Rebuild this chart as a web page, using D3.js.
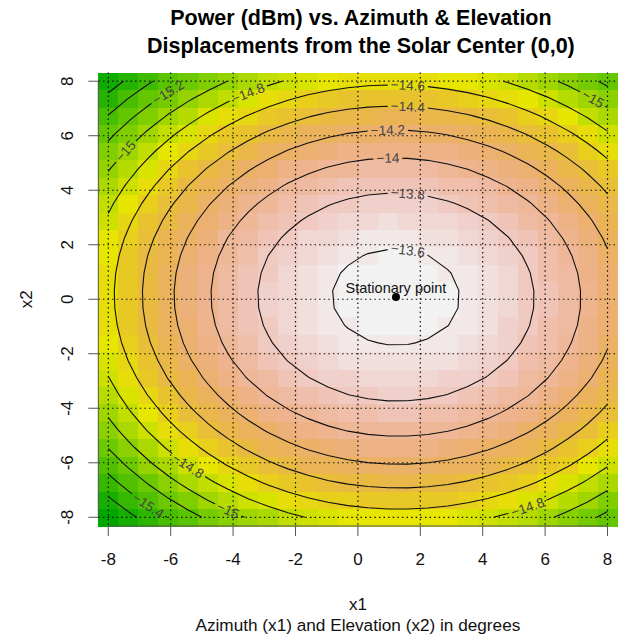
<!DOCTYPE html>
<html><head><meta charset="utf-8">
<script src="https://cdn.jsdelivr.net/npm/d3@7"></script>
<style>
body{margin:0;background:#fff}
text{font-family:"Liberation Sans",Arial,Helvetica,sans-serif}
</style>
</head><body>
<svg id="chart" width="619" height="636"></svg>
<script>
// ---- data ----
// second-order response-surface model (rsm fit): Power ~ SO(x1, x2)
const coefNames  = ["(Intercept)", "x1", "x2", "x1:x2", "x1^2", "x2^2"];
const coefValues = [-13.5644, 0.03158, 0.00321, -0.000348, -0.01293, -0.0174];
// evaluation grid (26 x 26 points over [-8, 8], rsm default resolution)
const gridX1 = d3.range(26).map(i => -8 + i * 16 / 25);
const gridX2 = d3.range(26).map(i => -8 + i * 16 / 25);
const xTicks = [-8, -6, -4, -2, 0, 2, 4, 6, 8];
const yTicks = [-8, -6, -4, -2, 0, 2, 4, 6, 8];
const contourLevels = [-15.8, -15.6, -15.4, -15.2, -15.0, -14.8, -14.6, -14.4, -14.2, -14.0, -13.8, -13.6];
const labelLevels = [-13.6, -13.8, -14.0, -14.2, -14.4, -14.6, -14.8, -14.8, -14.8, -15.0, -15.0, -15.0, -15.2, -15.4];
const titleLines = ["Power (dBm) vs. Azimuth & Elevation", "Displacements from the Solar Center (0,0)"];
const xLabel = "x1", yLabel = "x2";
const subLabel = "Azimuth (x1) and Elevation (x2) in degrees";
const pointLabel = "Stationary point";

// ---- layout (not data) ----
const labelAnchors = [[1.33,1.7],[1.33,3.8],[1.0,5.1],[1.27,6.15],[1.33,7.1],[1.33,7.9],
  [-3.59,7.37],[-5.24,-6.19],[5.12,-7.62],[-7.41,5.47],[7.42,7.28],[-4.18,-7.69],[-6.15,7.49],[-6.79,-7.41]];
const plot = {l: 98.3, r: 617.5, t: 72.5, b: 526};

function hsv(h, s, v) {
  const i = Math.floor(h * 6), f = h * 6 - i;
  const p = v * (1 - s), q = v * (1 - f * s), t = v * (1 - (1 - f) * s);
  let r, g, b;
  switch (((i % 6) + 6) % 6) {
    case 0: r=v; g=t; b=p; break; case 1: r=q; g=v; b=p; break;
    case 2: r=p; g=v; b=t; break; case 3: r=p; g=q; b=v; break;
    case 4: r=t; g=p; b=v; break; default: r=v; g=p; b=q;
  }
  return d3.rgb(r*255, g*255, b*255).formatHex();
}
function terrainColors(n) {
  const k = Math.floor(n / 2), h = [4/12, 2/12, 0], s = [1, 1, 0], v = [0.65, 0.9, 0.95];
  const out = [];
  for (let i = 0; i < k; i++) { const t = i / (k - 1);
    out.push(hsv(h[0]+(h[1]-h[0])*t, s[0]+(s[1]-s[0])*t, v[0]+(v[1]-v[0])*t)); }
  const m = n - k + 1;
  for (let i = 1; i < m; i++) { const t = i / (m - 1);
    out.push(hsv(h[1]+(h[2]-h[1])*t, s[1]+(s[2]-s[1])*t, v[1]+(v[2]-v[1])*t)); }
  return out;
}

const svg = d3.select("#chart");
const half = (gridX1[1] - gridX1[0]) / 2;
const x = d3.scaleLinear().domain([gridX1[0] - half, gridX1[gridX1.length-1] + half]).range([plot.l, plot.r]);
const y = d3.scaleLinear().domain([gridX2[0] - half, gridX2[gridX2.length-1] + half]).range([plot.b, plot.t]);

const c = coefValues;
const model = (a, b) => c[0] + c[1]*a + c[2]*b + c[3]*a*b + c[4]*a*a + c[5]*b*b;
const Z = gridX2.map(b => gridX1.map(a => model(a, b)));
const color = d3.scaleQuantize().domain(d3.extent(Z.flat())).range(terrainColors(50));

// image cells
const cells = [];
gridX2.forEach((b, j) => gridX1.forEach((a, i) => cells.push({a, b, z: Z[j][i]})));
svg.append("g").attr("shape-rendering", "crispEdges").selectAll("rect").data(cells).join("rect")
  .attr("x", d => x(d.a - half)).attr("y", d => y(d.b + half))
  .attr("width", d => x(d.a + half) - x(d.a - half) + 0.5)
  .attr("height", d => y(d.b - half) - y(d.b + half) + 0.5)
  .attr("fill", d => color(d.z));

// dotted grid
const grid = svg.append("g").attr("stroke", "#111").attr("stroke-width", 1.2).attr("stroke-dasharray", "1.5,3.1");
grid.selectAll(".gv").data(xTicks).join("line").attr("x1", d => x(d)).attr("x2", d => x(d)).attr("y1", plot.t).attr("y2", plot.b);
grid.selectAll(".gh").data(yTicks).join("line").attr("y1", d => y(d)).attr("y2", d => y(d)).attr("x1", plot.l).attr("x2", plot.r);

// marching squares -> polylines in data coords
function contourLines(t) {
  const nx = gridX1.length, ny = gridX2.length;
  const pts = {}, segs = [];
  function edgePt(key, a0, b0, v0, a1, b1, v1) {
    if (!pts[key]) { const f = (t - v0) / (v1 - v0); pts[key] = [a0 + f*(a1-a0), b0 + f*(b1-b0)]; }
    return key;
  }
  for (let j = 0; j < ny - 1; j++) for (let i = 0; i < nx - 1; i++) {
    const a0 = gridX1[i], a1 = gridX1[i+1], b0 = gridX2[j], b1 = gridX2[j+1];
    const v00 = Z[j][i], v10 = Z[j][i+1], v11 = Z[j+1][i+1], v01 = Z[j+1][i];
    const e = [];
    if ((v00 > t) !== (v10 > t)) e[0] = edgePt(`h${i}_${j}`, a0, b0, v00, a1, b0, v10);
    if ((v10 > t) !== (v11 > t)) e[1] = edgePt(`v${i+1}_${j}`, a1, b0, v10, a1, b1, v11);
    if ((v01 > t) !== (v11 > t)) e[2] = edgePt(`h${i}_${j+1}`, a0, b1, v01, a1, b1, v11);
    if ((v00 > t) !== (v01 > t)) e[3] = edgePt(`v${i}_${j}`, a0, b0, v00, a0, b1, v01);
    const ks = [0,1,2,3].filter(k => e[k] !== undefined);
    if (ks.length === 2) segs.push([e[ks[0]], e[ks[1]]]);
    else if (ks.length === 4) {
      const cen = (v00 + v10 + v11 + v01) / 4;
      if ((cen > t) === (v00 > t)) { segs.push([e[0], e[1]]); segs.push([e[2], e[3]]); }
      else { segs.push([e[0], e[3]]); segs.push([e[1], e[2]]); }
    }
  }
  const adj = {};
  segs.forEach((s, k) => { (adj[s[0]] = adj[s[0]] || []).push(k); (adj[s[1]] = adj[s[1]] || []).push(k); });
  const used = new Array(segs.length).fill(false), lines = [];
  function walk(startKey) {
    const line = [startKey]; let cur = startKey;
    while (true) {
      const nxt = (adj[cur] || []).find(k => !used[k]);
      if (nxt === undefined) break;
      used[nxt] = true;
      cur = segs[nxt][0] === cur ? segs[nxt][1] : segs[nxt][0];
      line.push(cur);
    }
    return line.map(k => pts[k]);
  }
  Object.keys(adj).filter(k => adj[k].length === 1).forEach(k => { if (adj[k].some(s => !used[s])) lines.push(walk(k)); });
  segs.forEach((s, k) => { if (!used[k]) lines.push(walk(s[0])); });
  return lines;
}
const contourData = contourLevels.map(level => ({level, lines: contourLines(level)}));

// label placement
const fmt = v => (v < 0 ? "\u2212" : "") + d3.format(".1~f")(Math.abs(v));
const labels = labelLevels.map((lev, k) => {
  const cd = contourData.find(d => Math.abs(d.level - lev) < 1e-9);
  const ax = x(labelAnchors[k][0]), ay = y(labelAnchors[k][1]);
  let best = null;
  cd.lines.forEach(line => line.forEach((p, idx) => {
    const px = x(p[0]), py = y(p[1]); const dd = (px-ax)**2 + (py-ay)**2;
    if (!best || dd < best.dd) best = {dd, line, idx, px, py};
  }));
  const L = best.line, i0 = Math.max(0, best.idx - 1), i1 = Math.min(L.length - 1, best.idx + 1);
  let ang = Math.atan2(y(L[i1][1]) - y(L[i0][1]), x(L[i1][0]) - x(L[i0][0])) * 180 / Math.PI;
  if (ang > 90) ang -= 180; if (ang < -90) ang += 180;
  return {text: fmt(lev), px: best.px, py: best.py, ang};
});

const defs = svg.append("defs");
const mask = defs.append("mask").attr("id", "lblmask").attr("maskUnits", "userSpaceOnUse")
  .attr("x", 0).attr("y", 0).attr("width", 619).attr("height", 636);
mask.append("rect").attr("width", 619).attr("height", 636).attr("fill", "#fff");

const lineGen = d3.line().x(p => x(p[0])).y(p => y(p[1]));
svg.append("g").attr("mask", "url(#lblmask)").attr("fill", "none").attr("stroke", "#111").attr("stroke-width", 1.1)
  .selectAll("path").data(contourData.flatMap(d => d.lines)).join("path").attr("d", lineGen);

const lblG = svg.append("g");
labels.forEach(l => {
  const t = lblG.append("text").attr("transform", `translate(${l.px},${l.py}) rotate(${l.ang})`)
    .attr("text-anchor", "middle").attr("dy", "0.35em").attr("font-size", 13.5).attr("fill", "#444").text(l.text);
  const w = t.node().getComputedTextLength();
  mask.append("rect").attr("x", -w/2 - 3).attr("y", -6).attr("width", w + 6).attr("height", 12)
    .attr("transform", `translate(${l.px},${l.py}) rotate(${l.ang})`).attr("fill", "#000");
});

// stationary point
const det = 4*c[4]*c[5] - c[3]*c[3];
const sx1 = (-c[1]*2*c[5] + c[2]*c[3]) / det;
const sx2 = (-c[2]*2*c[4] + c[1]*c[3]) / det;
svg.append("circle").attr("cx", x(sx1)).attr("cy", y(sx2)).attr("r", 4).attr("fill", "#000");
svg.append("text").attr("x", x(sx1)).attr("y", y(sx2) - 4).attr("text-anchor", "middle")
  .attr("font-size", 14.5).attr("fill", "#111").text(pointLabel);

// axes
const axG = svg.append("g").attr("stroke", "#555").attr("stroke-width", 1);
axG.append("line").attr("x1", x(xTicks[0])).attr("x2", x(xTicks[xTicks.length-1])).attr("y1", plot.b).attr("y2", plot.b);
axG.selectAll(".tx").data(xTicks).join("line").attr("x1", d => x(d)).attr("x2", d => x(d)).attr("y1", plot.b).attr("y2", plot.b + 10);
axG.append("line").attr("y1", y(yTicks[0])).attr("y2", y(yTicks[yTicks.length-1])).attr("x1", plot.l).attr("x2", plot.l);
axG.selectAll(".ty").data(yTicks).join("line").attr("y1", d => y(d)).attr("y2", d => y(d)).attr("x1", plot.l).attr("x2", plot.l - 10);

svg.append("g").selectAll("text").data(xTicks).join("text")
  .attr("x", d => x(d)).attr("y", 565).attr("text-anchor", "middle").attr("font-size", 17).attr("fill", "#111").text(d => d);
svg.append("g").selectAll("text").data(yTicks).join("text")
  .attr("transform", d => `translate(73,${y(d)}) rotate(-90)`).attr("text-anchor", "middle").attr("font-size", 17).attr("fill", "#111").text(d => d);

const cx = (plot.l + plot.r) / 2;
svg.append("text").attr("x", cx).attr("y", 610).attr("text-anchor", "middle").attr("font-size", 17).attr("fill", "#111").text(xLabel);
svg.append("text").attr("x", cx).attr("y", 631).attr("text-anchor", "middle").attr("font-size", 17.2).attr("fill", "#111").text(subLabel);
svg.append("text").attr("transform", `translate(32,${(plot.t + plot.b) / 2}) rotate(-90)`).attr("text-anchor", "middle").attr("font-size", 17).attr("fill", "#111").text(yLabel);

svg.append("g").selectAll("text").data(titleLines).join("text")
  .attr("x", cx + 3).attr("y", (d, i) => 25 + i * 28).attr("text-anchor", "middle")
  .attr("font-size", 21.5).attr("font-weight", "bold").attr("fill", "#000").text(d => d);
</script>
</body></html>
